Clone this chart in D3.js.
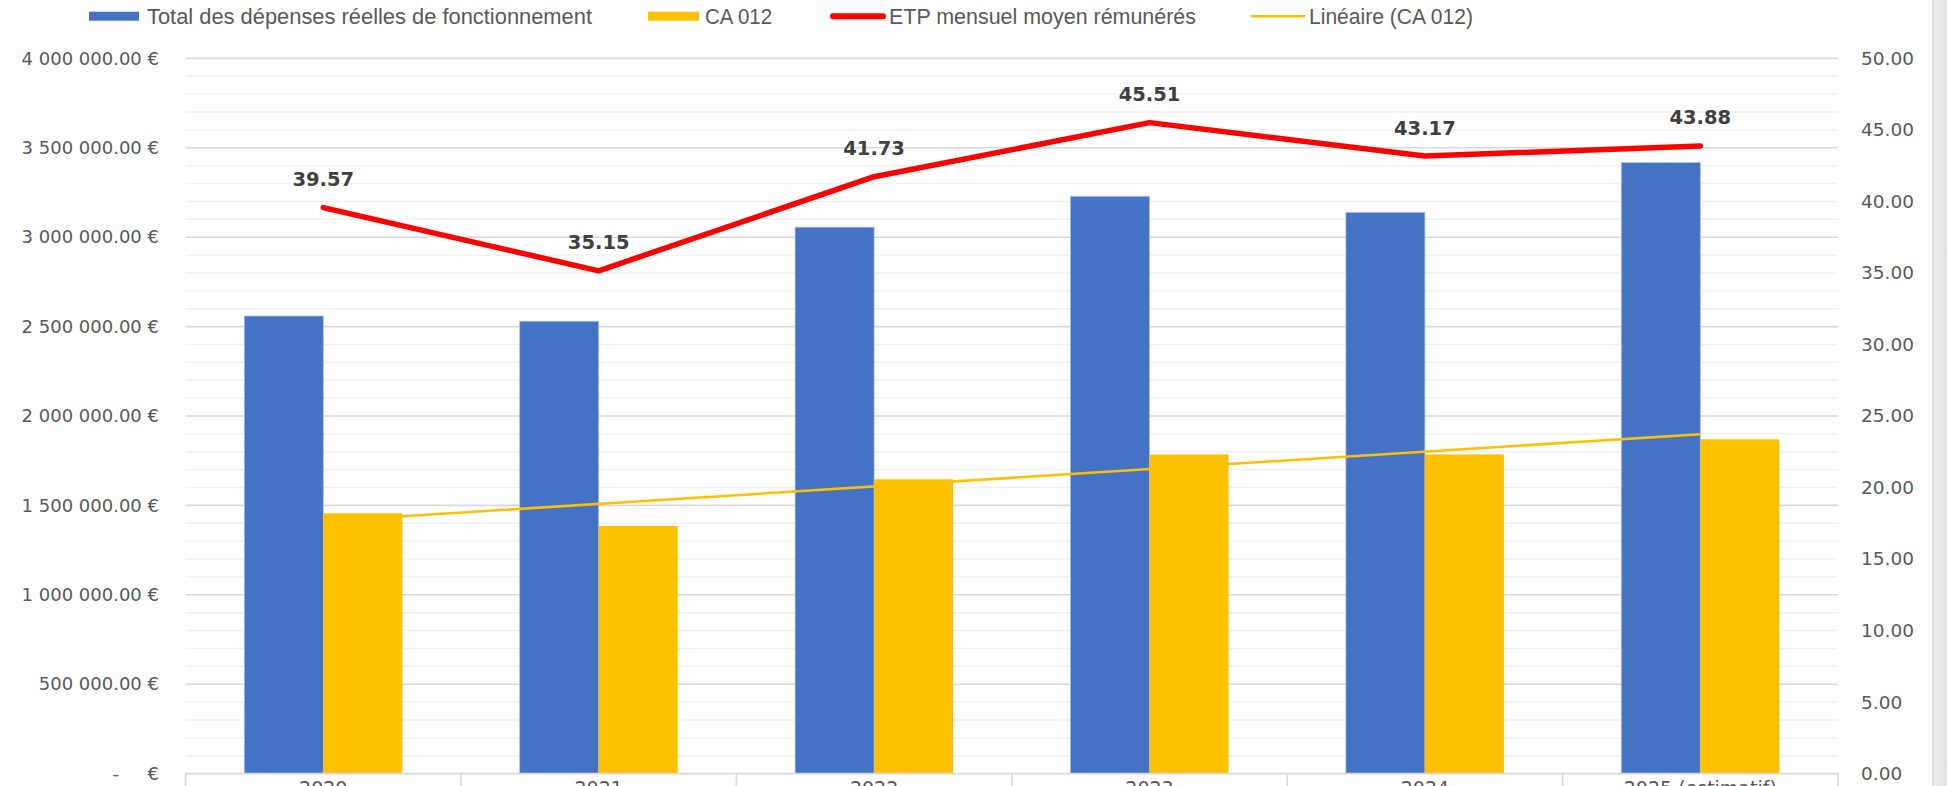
<!DOCTYPE html>
<html>
<head>
<meta charset="utf-8">
<script src="https://cdn.jsdelivr.net/npm/d3@7/dist/d3.min.js"></script>
<style>
  html, body { margin: 0; padding: 0; background: #ffffff; overflow: hidden; }
  svg { display: block; }
  text { white-space: pre; }
</style>
</head>
<body>
<svg id="chart" width="1947" height="786"></svg>
<script>
// ---------- DATA ----------
const categories = ["2020", "2021", "2022", "2023", "2024", "2025 (estimatif)"];
const totalDepenses = [2559000, 2530000, 3056000, 3229000, 3139000, 3417000];
const ca012 = [1456000, 1385000, 1646000, 1785000, 1785000, 1870000];
const etp = [39.57, 35.15, 41.73, 45.51, 43.17, 43.88];
const leftTicks = [0, 500000, 1000000, 1500000, 2000000, 2500000, 3000000, 3500000, 4000000];
const rightTicks = [0, 5, 10, 15, 20, 25, 30, 35, 40, 45, 50];
const seriesNames = ["Total des dépenses réelles de fonctionnement", "CA 012", "ETP mensuel moyen rémunérés", "Linéaire (CA 012)"];

// ---------- LAYOUT ----------
const W = 1947, H = 786;
const plotL = 185.6, plotR = 1838, plotT = 58.4, plotB = 773.6;
const svg = d3.select("#chart");

const x0 = d3.scaleBand().domain(categories).range([plotL, plotR]).paddingInner(0).paddingOuter(0);
const x1 = d3.scaleBand().domain(["total", "ca"]).range([0, x0.bandwidth()]).paddingInner(0).paddingOuter(0.743);
const yL = d3.scaleLinear().domain([0, 4000000]).range([plotB, plotT]);
const yR = d3.scaleLinear().domain([0, 50]).range([plotB, plotT]);

// gridlines (minor every 100k, major every 500k)
const minorVals = d3.range(100000, 4000001, 100000);
svg.append("g").selectAll("line").data(minorVals).join("line")
  .attr("x1", plotL).attr("x2", plotR)
  .attr("y1", d => yL(d)).attr("y2", d => yL(d))
  .attr("stroke", d => (d % 500000 === 0) ? "#d9d9d9" : "#f0f0f0")
  .attr("stroke-width", d => (d % 500000 === 0) ? 1.6 : 1.4);

// bars
const fmtFont = "'DejaVu Sans', sans-serif";
const gBars = svg.append("g");
categories.forEach((c, i) => {
  gBars.append("rect")
    .attr("x", x0(c) + x1("total")).attr("width", x1.bandwidth())
    .attr("y", yL(totalDepenses[i])).attr("height", yL(0) - yL(totalDepenses[i]))
    .attr("fill", "#4472C4").attr("stroke", "#a9bde6").attr("stroke-width", 0.8);
  gBars.append("rect")
    .attr("x", x0(c) + x1("ca")).attr("width", x1.bandwidth())
    .attr("y", yL(ca012[i])).attr("height", yL(0) - yL(ca012[i]))
    .attr("fill", "#FFC000");
});

// x-axis line and category separators
svg.append("line").attr("x1", plotL).attr("x2", plotR).attr("y1", plotB).attr("y2", plotB)
  .attr("stroke", "#d9d9d9").attr("stroke-width", 1.6);
const seps = categories.map(c => x0(c)).concat([x0(categories[categories.length - 1]) + x0.bandwidth()]);
svg.append("g").selectAll("line").data(seps).join("line")
  .attr("x1", d => d).attr("x2", d => d).attr("y1", plotB).attr("y2", H + 5)
  .attr("stroke", "#d9d9d9").attr("stroke-width", 1.6);

// category labels (cut off at the bottom)
svg.append("g").selectAll("text").data(categories).join("text")
  .attr("x", d => x0(d) + x0.bandwidth() / 2).attr("y", 795)
  .attr("text-anchor", "middle").attr("font-family", fmtFont).attr("font-size", 19)
  .attr("fill", "#595959").text(d => d);

// trendline (linear regression of CA 012)
const xs = categories.map((c, i) => i + 1);
const mx = d3.mean(xs), my = d3.mean(ca012);
const slope = d3.sum(xs, (xv, i) => (xv - mx) * (ca012[i] - my)) / d3.sum(xs, xv => (xv - mx) * (xv - mx));
const intercept = my - slope * mx;
const cx = c => x0(c) + x0.bandwidth() / 2;
svg.append("line")
  .attr("x1", cx(categories[0])).attr("y1", yL(intercept + slope * xs[0]))
  .attr("x2", cx(categories[categories.length - 1])).attr("y2", yL(intercept + slope * xs[xs.length - 1]))
  .attr("stroke", "#FFC000").attr("stroke-width", 2.6);

// ETP line
const line = d3.line().x((d, i) => cx(categories[i])).y(d => yR(d));
svg.append("path").datum(etp).attr("d", line)
  .attr("fill", "none").attr("stroke", "#FF0000").attr("stroke-width", 5.5)
  .attr("stroke-linejoin", "round").attr("stroke-linecap", "round");

// ETP labels
svg.append("g").selectAll("text").data(etp).join("text")
  .attr("x", (d, i) => cx(categories[i])).attr("y", d => yR(d) - 21.5)
  .attr("text-anchor", "middle").attr("font-family", fmtFont).attr("font-weight", "bold")
  .attr("font-size", 19.5).attr("fill", "#404040")
  .text(d => d3.format(".2f")(d));

// left axis
const fmtEuro = d => {
  if (d === 0) return "-     €";
  return d3.format(",.2f")(d).replace(/,/g, " ") + " €";
};
const axL = d3.axisLeft(yL).tickValues(leftTicks).tickSize(0).tickPadding(0).tickFormat(fmtEuro);
const gL = svg.append("g").attr("transform", `translate(${159},0)`).call(axL);
gL.select(".domain").remove();
gL.selectAll("text").attr("font-family", fmtFont).attr("font-size", 18).attr("fill", "#595959");

// right axis
const axR = d3.axisRight(yR).tickValues(rightTicks).tickSize(0).tickPadding(0).tickFormat(d3.format(".2f"));
const gR = svg.append("g").attr("transform", `translate(${1861},0)`).call(axR);
gR.select(".domain").remove();
gR.selectAll("text").attr("font-family", fmtFont).attr("font-size", 18.5).attr("fill", "#595959");

// legend
const legFont = "'Liberation Sans Narrow', 'Arial Narrow', 'Liberation Sans', sans-serif";
const legY = 16.2;
const leg = svg.append("g");
const legendItems = [
  { kind: "rect", color: "#4472C4", sx: 89, sw: 50, tx: 147, tw: 445 },
  { kind: "rect", color: "#FFC000", sx: 648, sw: 51, tx: 705, tw: 67 },
  { kind: "thick", color: "#FF0000", sx: 830, sw: 56, tx: 889, tw: 307 },
  { kind: "thin", color: "#FFC000", sx: 1251, sw: 54, tx: 1309, tw: 164 }
];
legendItems.forEach((it, i) => {
  if (it.kind === "rect") {
    leg.append("rect").attr("x", it.sx).attr("y", legY - 4.5).attr("width", it.sw).attr("height", 9).attr("fill", it.color);
  } else {
    leg.append("line").attr("x1", it.sx + (it.kind === "thick" ? 3 : 0)).attr("x2", it.sx + it.sw - (it.kind === "thick" ? 3 : 0))
      .attr("y1", legY).attr("y2", legY).attr("stroke", it.color)
      .attr("stroke-width", it.kind === "thick" ? 6 : 2.6)
      .attr("stroke-linecap", it.kind === "thick" ? "round" : "butt");
  }
  leg.append("text").attr("x", it.tx).attr("y", legY).attr("dy", "0.35em")
    .attr("font-family", legFont).attr("font-size", 22).attr("fill", "#595959")
    .attr("textLength", it.tw).attr("lengthAdjust", "spacingAndGlyphs")
    .text(seriesNames[i]);
});

// right-edge gray band
const defs = svg.append("defs");
const grad = defs.append("linearGradient").attr("id", "edge").attr("x1", "0").attr("x2", "1");
grad.append("stop").attr("offset", "0").attr("stop-color", "#d4d4d4");
grad.append("stop").attr("offset", "0.15").attr("stop-color", "#ececec");
grad.append("stop").attr("offset", "1").attr("stop-color", "#e2e2e2");
svg.append("rect").attr("x", 1932).attr("y", 0).attr("width", 15).attr("height", H).attr("fill", "url(#edge)");
</script>
</body>
</html>
